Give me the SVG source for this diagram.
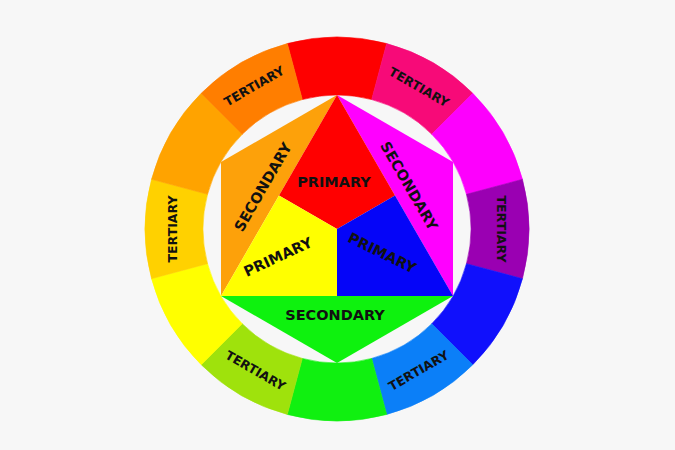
<svg xmlns="http://www.w3.org/2000/svg" width="675" height="450" viewBox="0 0 675 450">
<style>
  .seg { stroke-width: 0.6; }
  .lbl { font-family: "DejaVu Sans", "Liberation Sans", sans-serif; font-weight: bold; fill: #111111; text-anchor: middle; dominant-baseline: central; }
  .t { font-size: 12.5px; }
  .m { font-size: 14.5px; }
</style>
<rect width="675" height="450" fill="#f7f7f7"/>
<g id="ring">
  <g id="seg-red"><path class="seg" fill="#fe0000" stroke="#fe0000" d="M287.31 43.54 A192 192 0 0 1 386.69 43.54 L371.68 99.57 A134 134 0 0 0 302.32 99.57 Z"/></g>
  <g id="seg-redviolet"><path class="seg" fill="#f70a78" stroke="#f70a78" d="M386.69 43.54 A192 192 0 0 1 472.76 93.24 L431.75 134.25 A134 134 0 0 0 371.68 99.57 Z"/><text class="lbl t" transform="translate(419 87) rotate(30)">TERTIARY</text></g>
  <g id="seg-magenta"><path class="seg" fill="#fd00fd" stroke="#fd00fd" d="M472.76 93.24 A192 192 0 0 1 522.46 179.31 L466.43 194.32 A134 134 0 0 0 431.75 134.25 Z"/></g>
  <g id="seg-violet"><path class="seg" fill="#9a00b2" stroke="#9a00b2" d="M522.46 179.31 A192 192 0 0 1 522.46 278.69 L466.43 263.68 A134 134 0 0 0 466.43 194.32 Z"/><text class="lbl t" transform="translate(501 229) rotate(90)">TERTIARY</text></g>
  <g id="seg-blue"><path class="seg" fill="#1010fc" stroke="#1010fc" d="M522.46 278.69 A192 192 0 0 1 472.76 364.76 L431.75 323.75 A134 134 0 0 0 466.43 263.68 Z"/></g>
  <g id="seg-bluegreen"><path class="seg" fill="#0b7ff8" stroke="#0b7ff8" d="M472.76 364.76 A192 192 0 0 1 386.69 414.46 L371.68 358.43 A134 134 0 0 0 431.75 323.75 Z"/><text class="lbl t" transform="translate(418.5 370.5) rotate(-30)">TERTIARY</text></g>
  <g id="seg-green"><path class="seg" fill="#10f010" stroke="#10f010" d="M386.69 414.46 A192 192 0 0 1 287.31 414.46 L302.32 358.43 A134 134 0 0 0 371.68 358.43 Z"/></g>
  <g id="seg-yellowgreen"><path class="seg" fill="#9fe20c" stroke="#9fe20c" d="M287.31 414.46 A192 192 0 0 1 201.24 364.76 L242.25 323.75 A134 134 0 0 0 302.32 358.43 Z"/><text class="lbl t" transform="translate(255.5 370.5) rotate(30)">TERTIARY</text></g>
  <g id="seg-yellow"><path class="seg" fill="#ffff00" stroke="#ffff00" d="M201.24 364.76 A192 192 0 0 1 151.54 278.69 L207.57 263.68 A134 134 0 0 0 242.25 323.75 Z"/></g>
  <g id="seg-yelloworange"><path class="seg" fill="#ffd100" stroke="#ffd100" d="M151.54 278.69 A192 192 0 0 1 151.54 179.31 L207.57 194.32 A134 134 0 0 0 207.57 263.68 Z"/><text class="lbl t" transform="translate(172 229) rotate(-90)">TERTIARY</text></g>
  <g id="seg-orange"><path class="seg" fill="#ffa300" stroke="#ffa300" d="M151.54 179.31 A192 192 0 0 1 201.24 93.24 L242.25 134.25 A134 134 0 0 0 207.57 194.32 Z"/></g>
  <g id="seg-redorange"><path class="seg" fill="#ff7e00" stroke="#ff7e00" d="M201.24 93.24 A192 192 0 0 1 287.31 43.54 L302.32 99.57 A134 134 0 0 0 242.25 134.25 Z"/><text class="lbl t" transform="translate(254 86) rotate(-30)">TERTIARY</text></g>
</g>
<g id="inner">
  <g id="sec-orange"><polygon fill="#fda10a" points="337,95 221,162 221,296"/><text class="lbl m" transform="translate(263 187) rotate(-60)">SECONDARY</text></g>
  <g id="sec-magenta"><polygon fill="#ff00ff" points="337,95 453,162 453,296"/><text class="lbl m" transform="translate(409 186) rotate(60)">SECONDARY</text></g>
  <g id="sec-green"><polygon fill="#0ef20e" points="221,296 453,296 337,363"/><text class="lbl m" transform="translate(335 315)">SECONDARY</text></g>
  <g id="pri-red"><polygon fill="#ff0000" points="337,95 395,195.5 337,229 279,195.5"/><text class="lbl m" transform="translate(334 182)">PRIMARY</text></g>
  <g id="pri-yellow"><polygon fill="#ffff00" points="279,195.5 337,229 337,296 221,296"/><text class="lbl m" transform="translate(278 257) rotate(-25)">PRIMARY</text></g>
  <g id="pri-blue"><polygon fill="#0505f8" points="395,195.5 453,296 337,296 337,229"/><text class="lbl m" transform="translate(382 253) rotate(26)">PRIMARY</text></g>
</g>
<g id="connectors"/>
</svg>
